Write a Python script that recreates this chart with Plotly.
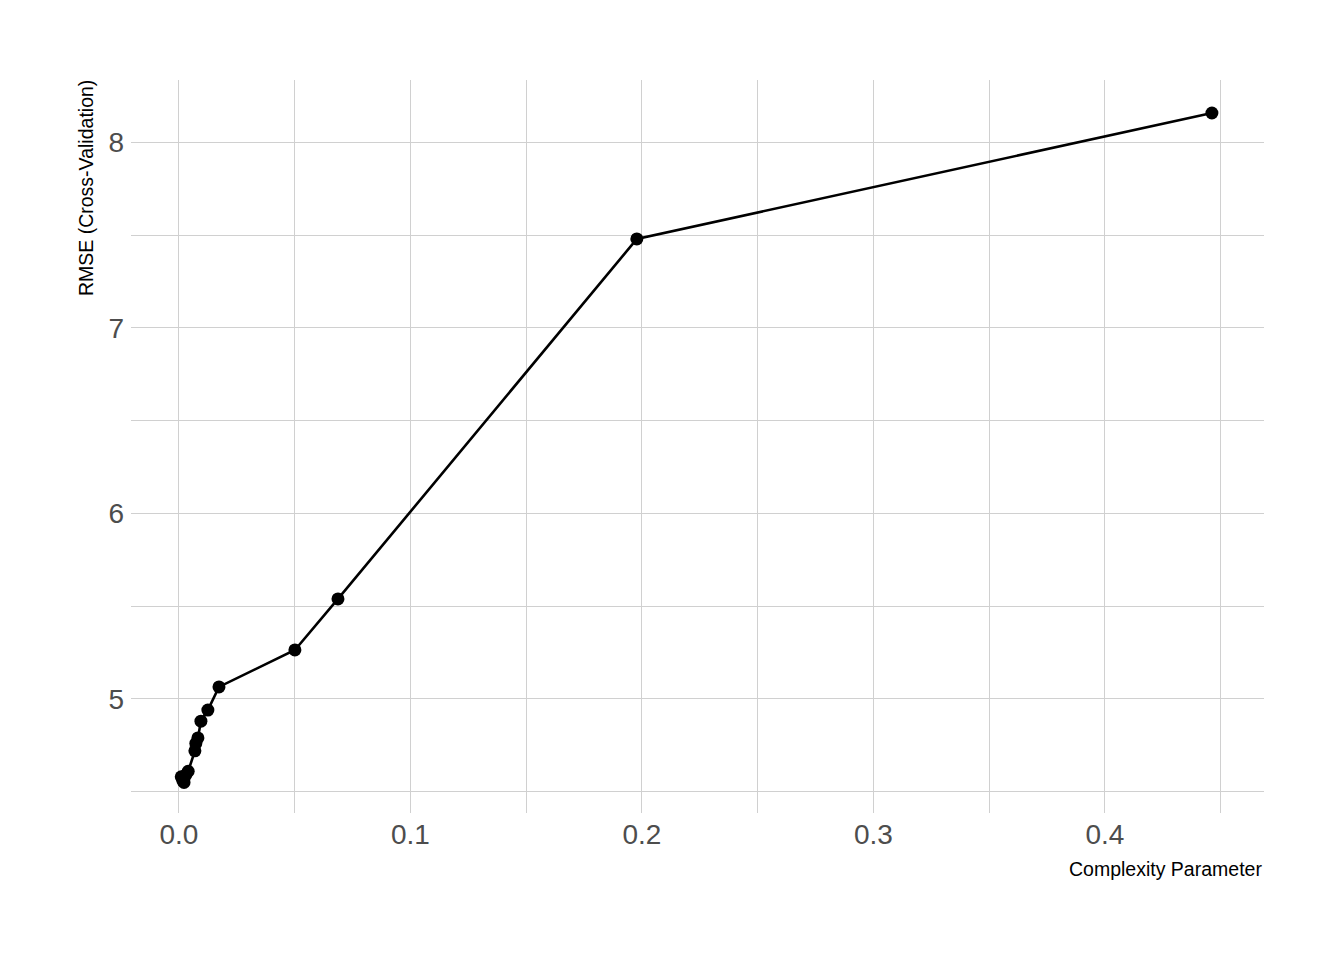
import plotly.graph_objects as go

cp = [0.0010, 0.0017, 0.0022, 0.0030, 0.0040, 0.0069, 0.0073, 0.0082, 0.0095, 0.0125, 0.0173, 0.0501, 0.0687, 0.1978, 0.4462]
rmse = [4.58, 4.56, 4.55, 4.59, 4.61, 4.72, 4.76, 4.79, 4.88, 4.94, 5.065, 5.264, 5.539, 7.48, 8.159]

FONT = "Liberation Sans Narrow, Arial Narrow, Liberation Sans, Arial, sans-serif"

fig = go.Figure()
fig.add_trace(go.Scatter(
    x=cp, y=rmse, mode="lines+markers",
    line=dict(color="black", width=2.6),
    marker=dict(color="black", size=13),
    showlegend=False,
))

grid = "#D0D0D0"
fig.update_layout(
    width=1344, height=960,
    margin=dict(l=123, r=88, t=72, b=155),
    paper_bgcolor="white", plot_bgcolor="white",
    font=dict(family=FONT, color="#4D4D4D"),
    xaxis=dict(
        range=[-0.0207, 0.4687], tickvals=[0, 0.1, 0.2, 0.3, 0.4],
        ticktext=["0.0", "0.1", "0.2", "0.3", "0.4"],
        showgrid=True, gridcolor=grid, gridwidth=1,
        minor=dict(tickvals=[0.05, 0.15, 0.25, 0.35, 0.45], showgrid=True, gridcolor=grid, gridwidth=1),
        zeroline=False, showline=False, ticks="",
        tickfont=dict(size=28, color="#4D4D4D", family=FONT),
        ticklabelstandoff=2,
    ),
    yaxis=dict(
        range=[4.385, 8.337], tickvals=[5, 6, 7, 8],
        showgrid=True, gridcolor=grid, gridwidth=1,
        minor=dict(tickvals=[4.5, 5.5, 6.5, 7.5], showgrid=True, gridcolor=grid, gridwidth=1),
        zeroline=False, showline=False, ticks="",
        tickfont=dict(size=28, color="#4D4D4D", family=FONT),
        ticklabelstandoff=6,
    ),
    annotations=[
        dict(text="Complexity Parameter", xref="paper", yref="paper", x=1, y=-0.059,
             xanchor="right", yanchor="top", showarrow=False,
             font=dict(size=19.5, color="black", family=FONT)),
        dict(text="RMSE (Cross-Validation)", xref="paper", yref="paper", x=-0.0395, y=1.003,
             xanchor="center", yanchor="top", textangle=-90, showarrow=False,
             font=dict(size=19.5, color="black", family=FONT)),
    ],
)

fig.write_html("out.html")
